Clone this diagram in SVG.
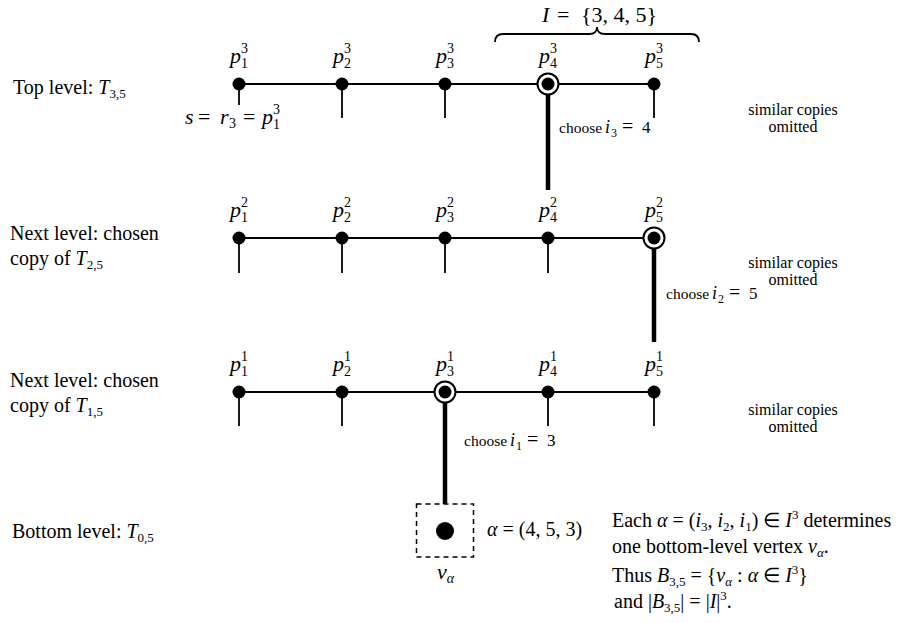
<svg xmlns="http://www.w3.org/2000/svg" width="897" height="623" viewBox="0 0 897 623">
<style>
.t{font-family:"Liberation Serif","Times New Roman",serif;fill:#000}
.lbl{font-size:20px}
.pl{font-size:22px}
.it{font-style:italic}
.sm{font-size:13px}
.ss{font-size:14px}
.note{font-size:16px}
.ch{font-size:15.5px}
.ln{stroke:#000;stroke-width:1.8;fill:none}
.thick{stroke:#000;stroke-width:4.5;fill:none}
.dot{fill:#000}
.ring{fill:#fff;stroke:#000;stroke-width:2}
</style>
<rect width="897" height="623" fill="#fff"/>

<!-- level labels -->
<g id="level-labels">
<text class="t lbl" x="13" y="94">Top level: <tspan class="it">T</tspan><tspan class="sm" dy="4">3,5</tspan></text>
<text class="t lbl" x="10" y="240">Next level: chosen</text>
<text class="t lbl" x="10" y="265">copy of <tspan class="it">T</tspan><tspan class="sm" dy="4">2,5</tspan></text>
<text class="t lbl" x="10" y="387">Next level: chosen</text>
<text class="t lbl" x="10" y="412">copy of <tspan class="it">T</tspan><tspan class="sm" dy="4">1,5</tspan></text>
<text class="t lbl" x="12" y="538">Bottom level: <tspan class="it">T</tspan><tspan class="sm" dy="4">0,5</tspan></text>
</g>

<!-- connectors -->
<g id="connectors">
<line class="ln" x1="239" y1="84" x2="654" y2="84"/>
<line class="ln" x1="239" y1="84" x2="239" y2="105"/>
<line class="ln" x1="342" y1="84" x2="342" y2="118"/>
<line class="ln" x1="445" y1="84" x2="445" y2="118"/>
<line class="ln" x1="654" y1="84" x2="654" y2="118"/>
<line class="thick" x1="548" y1="84" x2="548" y2="190"/>

<line class="ln" x1="239" y1="238" x2="654" y2="238"/>
<line class="ln" x1="239" y1="238" x2="239" y2="273"/>
<line class="ln" x1="342" y1="238" x2="342" y2="273"/>
<line class="ln" x1="445" y1="238" x2="445" y2="273"/>
<line class="ln" x1="548" y1="238" x2="548" y2="273"/>
<line class="thick" x1="654" y1="238" x2="654" y2="342"/>

<line class="ln" x1="239" y1="392" x2="654" y2="392"/>
<line class="ln" x1="239" y1="392" x2="239" y2="426"/>
<line class="ln" x1="342" y1="392" x2="342" y2="426"/>
<line class="ln" x1="548" y1="392" x2="548" y2="426"/>
<line class="ln" x1="654" y1="392" x2="654" y2="426"/>
<line class="thick" x1="445" y1="392" x2="445" y2="504"/>
</g>

<!-- brace -->
<g id="brace-I">
<path class="ln" stroke-width="1.5" d="M495,42 Q495,34 503,34 L589,34 Q597,34 597,27 Q597,34 605,34 L691,34 Q699,34 699,42"/>
<text class="t pl" x="542" y="22"><tspan class="it">I</tspan><tspan x="557">=</tspan><tspan x="581">{3, 4, 5}</tspan></text>
</g>

<!-- level 3 nodes -->
<g id="p3-1"><circle class="dot" cx="239" cy="84" r="6.5"/>
<text class="t pl" x="230" y="63"><tspan class="it">p</tspan><tspan class="ss" x="241" y="53">3</tspan><tspan class="ss" x="241" y="68">1</tspan></text>
<text class="t pl" x="185" y="124"><tspan class="it">s</tspan><tspan x="198">=</tspan><tspan class="it" x="220">r</tspan><tspan class="ss" x="229" y="128">3</tspan><tspan x="243" y="124">=</tspan><tspan class="it" x="262">p</tspan><tspan class="ss" x="273" y="114">3</tspan><tspan class="ss" x="273" y="129">1</tspan></text>
</g>
<g id="p3-2"><circle class="dot" cx="342" cy="84" r="6.5"/>
<text class="t pl" x="333" y="63"><tspan class="it">p</tspan><tspan class="ss" x="344" y="53">3</tspan><tspan class="ss" x="344" y="68">2</tspan></text></g>
<g id="p3-3"><circle class="dot" cx="445" cy="84" r="6.5"/>
<text class="t pl" x="436" y="63"><tspan class="it">p</tspan><tspan class="ss" x="447" y="53">3</tspan><tspan class="ss" x="447" y="68">3</tspan></text></g>
<g id="p3-4"><circle class="ring" cx="548" cy="84" r="10.5"/><circle class="dot" cx="548" cy="84" r="6.5"/>
<text class="t pl" x="539" y="63"><tspan class="it">p</tspan><tspan class="ss" x="550" y="53">3</tspan><tspan class="ss" x="550" y="68">4</tspan></text></g>
<g id="p3-5"><circle class="dot" cx="654" cy="84" r="6.5"/>
<text class="t pl" x="645" y="63"><tspan class="it">p</tspan><tspan class="ss" x="656" y="53">3</tspan><tspan class="ss" x="656" y="68">5</tspan></text></g>

<!-- level 2 nodes -->
<g id="p2-1"><circle class="dot" cx="239" cy="238" r="6.5"/>
<text class="t pl" x="230" y="217"><tspan class="it">p</tspan><tspan class="ss" x="241" y="207">2</tspan><tspan class="ss" x="241" y="222">1</tspan></text></g>
<g id="p2-2"><circle class="dot" cx="342" cy="238" r="6.5"/>
<text class="t pl" x="333" y="217"><tspan class="it">p</tspan><tspan class="ss" x="344" y="207">2</tspan><tspan class="ss" x="344" y="222">2</tspan></text></g>
<g id="p2-3"><circle class="dot" cx="445" cy="238" r="6.5"/>
<text class="t pl" x="436" y="217"><tspan class="it">p</tspan><tspan class="ss" x="447" y="207">2</tspan><tspan class="ss" x="447" y="222">3</tspan></text></g>
<g id="p2-4"><circle class="dot" cx="548" cy="238" r="6.5"/>
<text class="t pl" x="539" y="217"><tspan class="it">p</tspan><tspan class="ss" x="550" y="207">2</tspan><tspan class="ss" x="550" y="222">4</tspan></text></g>
<g id="p2-5"><circle class="ring" cx="654" cy="238" r="10.5"/><circle class="dot" cx="654" cy="238" r="6.5"/>
<text class="t pl" x="645" y="217"><tspan class="it">p</tspan><tspan class="ss" x="656" y="207">2</tspan><tspan class="ss" x="656" y="222">5</tspan></text></g>

<!-- level 1 nodes -->
<g id="p1-1"><circle class="dot" cx="239" cy="392" r="6.5"/>
<text class="t pl" x="230" y="371"><tspan class="it">p</tspan><tspan class="ss" x="241" y="361">1</tspan><tspan class="ss" x="241" y="376">1</tspan></text></g>
<g id="p1-2"><circle class="dot" cx="342" cy="392" r="6.5"/>
<text class="t pl" x="333" y="371"><tspan class="it">p</tspan><tspan class="ss" x="344" y="361">1</tspan><tspan class="ss" x="344" y="376">2</tspan></text></g>
<g id="p1-3"><circle class="ring" cx="445" cy="392" r="10.5"/><circle class="dot" cx="445" cy="392" r="6.5"/>
<text class="t pl" x="436" y="371"><tspan class="it">p</tspan><tspan class="ss" x="447" y="361">1</tspan><tspan class="ss" x="447" y="376">3</tspan></text></g>
<g id="p1-4"><circle class="dot" cx="548" cy="392" r="6.5"/>
<text class="t pl" x="539" y="371"><tspan class="it">p</tspan><tspan class="ss" x="550" y="361">1</tspan><tspan class="ss" x="550" y="376">4</tspan></text></g>
<g id="p1-5"><circle class="dot" cx="654" cy="392" r="6.5"/>
<text class="t pl" x="645" y="371"><tspan class="it">p</tspan><tspan class="ss" x="656" y="361">1</tspan><tspan class="ss" x="656" y="376">5</tspan></text></g>

<!-- choose labels -->
<g id="choose-labels">
<text class="t ch" x="559" y="133">choose<tspan class="it" font-size="18" x="605">i</tspan><tspan font-size="12" x="611" y="137">3</tspan><tspan font-size="20" x="622" y="133">=</tspan><tspan font-size="17" x="642">4</tspan></text>
<text class="t ch" x="666" y="299">choose<tspan class="it" font-size="18" x="712">i</tspan><tspan font-size="12" x="718" y="303">2</tspan><tspan font-size="20" x="729" y="299">=</tspan><tspan font-size="17" x="749">5</tspan></text>
<text class="t ch" x="464" y="446">choose<tspan class="it" font-size="18" x="510">i</tspan><tspan font-size="12" x="516" y="450">1</tspan><tspan font-size="20" x="527" y="446">=</tspan><tspan font-size="17" x="547">3</tspan></text>
</g>

<!-- similar copies notes -->
<g id="notes" text-anchor="middle">
<text class="t note" x="793" y="115">similar copies</text>
<text class="t note" x="793" y="132">omitted</text>
<text class="t note" x="793" y="268">similar copies</text>
<text class="t note" x="793" y="285">omitted</text>
<text class="t note" x="793" y="415">similar copies</text>
<text class="t note" x="793" y="432">omitted</text>
</g>

<!-- bottom vertex -->
<g id="v-alpha">
<rect x="416.5" y="504" width="57" height="53" fill="none" stroke="#000" stroke-width="1.5" stroke-dasharray="5,4"/>
<circle class="dot" cx="445" cy="531" r="9"/>
<text class="t pl" x="437" y="579"><tspan class="it">v</tspan><tspan class="ss it" dy="4">α</tspan></text>
<text class="t lbl" x="487" y="536"><tspan class="it">α</tspan> = (4, 5, 3)</text>
</g>

<!-- explanation -->
<g id="explanation">
<text class="t lbl" x="612" y="527">Each <tspan class="it">α</tspan> = (<tspan class="it">i</tspan><tspan class="sm" dy="4">3</tspan><tspan dy="-4">, </tspan><tspan class="it">i</tspan><tspan class="sm" dy="4">2</tspan><tspan dy="-4">, </tspan><tspan class="it">i</tspan><tspan class="sm" dy="4">1</tspan><tspan dy="-4">) ∈ </tspan><tspan class="it">I</tspan><tspan class="sm" dy="-8">3</tspan><tspan dy="8"> determines</tspan></text>
<text class="t lbl" x="612" y="553">one bottom-level vertex <tspan class="it">v</tspan><tspan class="sm it" dy="4">α</tspan><tspan dy="-4">.</tspan></text>
<text class="t lbl" x="612" y="582">Thus <tspan class="it">B</tspan><tspan class="sm" dy="4">3,5</tspan><tspan dy="-4"> = {</tspan><tspan class="it">v</tspan><tspan class="sm it" dy="4">α</tspan><tspan dy="-4"> : </tspan><tspan class="it">α</tspan> ∈ <tspan class="it">I</tspan><tspan class="sm" dy="-8">3</tspan><tspan dy="8">}</tspan></text>
<text class="t lbl" x="614" y="608">and |<tspan class="it">B</tspan><tspan class="sm" dy="4">3,5</tspan><tspan dy="-4">| = |</tspan><tspan class="it">I</tspan>|<tspan class="sm" dy="-8">3</tspan><tspan dy="8">.</tspan></text>
</g>
</svg>
